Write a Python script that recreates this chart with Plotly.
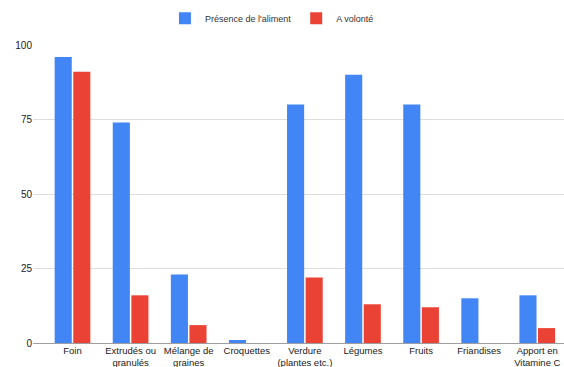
import plotly.graph_objects as go

categories = [
    "Foin", "Extrudés ou<br>granulés", "Mélange de<br>graines", "Croquettes",
    "Verdure<br>(plantes etc.)", "Légumes", "Fruits", "Friandises",
    "Apport en<br>Vitamine C",
]
presence = [96, 74, 23, 1, 80, 90, 80, 15, 16]
volonte = [91, 16, 6, 0, 22, 13, 12, 0, 5]
y_ticks = [0, 25, 50, 75, 100]

fig = go.Figure()
fig.add_trace(go.Bar(x=categories, y=presence, name="Présence de l'aliment",
                     marker=dict(color="#4285F4", line=dict(width=0))))
fig.add_trace(go.Bar(x=categories, y=volonte, name="A volonté",
                     marker=dict(color="#EA4335", line=dict(width=0))))

fig.update_layout(
    width=564, height=367,
    margin=dict(l=33, r=0, t=45, b=24),
    paper_bgcolor="white", plot_bgcolor="white",
    barmode="group", bargap=0.36, bargroupgap=0.08,
    font=dict(family="Liberation Sans, Arial, sans-serif", size=10, color="#222222"),
    showlegend=True,
    legend=dict(orientation="h", x=0.45, xanchor="center", y=0.99, yanchor="top",
                yref="container", font=dict(size=9, color="#333333"),
                itemwidth=30, traceorder="normal"),
    xaxis=dict(range=[-0.68, 8.46], showgrid=False, showline=False, ticks="",
               automargin=False, tickfont=dict(size=9.5, color="#222222")),
    yaxis=dict(range=[0, 100], tickvals=y_ticks, showgrid=True, gridcolor="#dddddd",
               gridwidth=1, zeroline=True, zerolinecolor="#9e9e9e", zerolinewidth=1,
               showline=False, ticks="", automargin=False,
               tickfont=dict(size=10, color="#222222")),
)

fig.write_html("out.html")
